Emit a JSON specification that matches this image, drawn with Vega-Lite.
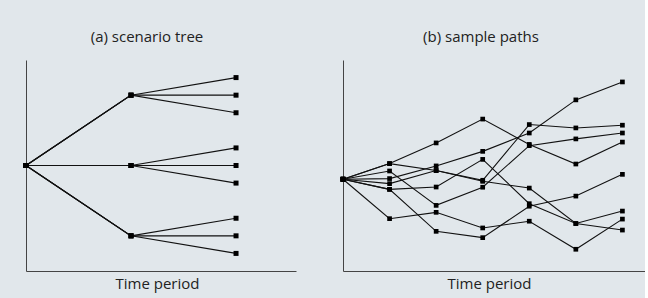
{
  "$schema": "https://vega.github.io/schema/vega-lite/v6.json",
  "background": "#e1e7eb",
  "padding": {"left": 23, "top": 30, "right": 0, "bottom": 20},
  "config": {
    "view": {"stroke": null},
    "font": "Open Sans",
    "axis": {"domainColor": "#444", "domainWidth": 1, "ticks": false, "labels": false, "grid": false, "titleFontSize": 15, "titleFontWeight": "normal", "titleColor": "#222", "titlePadding": 5},
    "title": {"fontSize": 15, "fontWeight": "normal", "color": "#222", "offset": 15}
  },
  "datasets": {
    "tree": [
      {"path": "L1", "t": 0, "v": 0}, {"path": "L1", "t": 1, "v": 4}, {"path": "L1", "t": 2, "v": 5},
      {"path": "L2", "t": 0, "v": 0}, {"path": "L2", "t": 1, "v": 4}, {"path": "L2", "t": 2, "v": 4},
      {"path": "L3", "t": 0, "v": 0}, {"path": "L3", "t": 1, "v": 4}, {"path": "L3", "t": 2, "v": 3},
      {"path": "L4", "t": 0, "v": 0}, {"path": "L4", "t": 1, "v": 0}, {"path": "L4", "t": 2, "v": 1},
      {"path": "L5", "t": 0, "v": 0}, {"path": "L5", "t": 1, "v": 0}, {"path": "L5", "t": 2, "v": 0},
      {"path": "L6", "t": 0, "v": 0}, {"path": "L6", "t": 1, "v": 0}, {"path": "L6", "t": 2, "v": -1},
      {"path": "L7", "t": 0, "v": 0}, {"path": "L7", "t": 1, "v": -4}, {"path": "L7", "t": 2, "v": -3},
      {"path": "L8", "t": 0, "v": 0}, {"path": "L8", "t": 1, "v": -4}, {"path": "L8", "t": 2, "v": -4},
      {"path": "L9", "t": 0, "v": 0}, {"path": "L9", "t": 1, "v": -4}, {"path": "L9", "t": 2, "v": -5}
    ],
    "paths": [
      {"path": "P1", "t": 0, "v": 43.5}, {"path": "P1", "t": 1, "v": 50.9}, {"path": "P1", "t": 2, "v": 60.7}, {"path": "P1", "t": 3, "v": 72.0}, {"path": "P1", "t": 4, "v": 60.0}, {"path": "P1", "t": 5, "v": 50.7}, {"path": "P1", "t": 6, "v": 61.1},
      {"path": "P2", "t": 0, "v": 43.5}, {"path": "P2", "t": 1, "v": 50.9}, {"path": "P2", "t": 2, "v": 47.6}, {"path": "P2", "t": 3, "v": 43.0}, {"path": "P2", "t": 4, "v": 69.4}, {"path": "P2", "t": 5, "v": 67.8}, {"path": "P2", "t": 6, "v": 69.1},
      {"path": "P3", "t": 0, "v": 43.5}, {"path": "P3", "t": 1, "v": 41.4}, {"path": "P3", "t": 2, "v": 47.6}, {"path": "P3", "t": 3, "v": 42.5}, {"path": "P3", "t": 4, "v": 39.3}, {"path": "P3", "t": 5, "v": 22.5}, {"path": "P3", "t": 6, "v": 19.4},
      {"path": "P4", "t": 0, "v": 43.5}, {"path": "P4", "t": 1, "v": 43.8}, {"path": "P4", "t": 2, "v": 49.8}, {"path": "P4", "t": 3, "v": 56.7}, {"path": "P4", "t": 4, "v": 65.4}, {"path": "P4", "t": 5, "v": 81.1}, {"path": "P4", "t": 6, "v": 89.6},
      {"path": "P5", "t": 0, "v": 43.5}, {"path": "P5", "t": 1, "v": 47.4}, {"path": "P5", "t": 2, "v": 31.1}, {"path": "P5", "t": 3, "v": 39.7}, {"path": "P5", "t": 4, "v": 59.4}, {"path": "P5", "t": 5, "v": 62.6}, {"path": "P5", "t": 6, "v": 65.4},
      {"path": "P6", "t": 0, "v": 43.5}, {"path": "P6", "t": 1, "v": 38.7}, {"path": "P6", "t": 2, "v": 39.8}, {"path": "P6", "t": 3, "v": 52.9}, {"path": "P6", "t": 4, "v": 31.9}, {"path": "P6", "t": 5, "v": 22.5}, {"path": "P6", "t": 6, "v": 28.4},
      {"path": "P7", "t": 0, "v": 43.5}, {"path": "P7", "t": 1, "v": 38.7}, {"path": "P7", "t": 2, "v": 18.8}, {"path": "P7", "t": 3, "v": 15.8}, {"path": "P7", "t": 4, "v": 30.7}, {"path": "P7", "t": 5, "v": 35.5}, {"path": "P7", "t": 6, "v": 45.8},
      {"path": "P8", "t": 0, "v": 43.5}, {"path": "P8", "t": 1, "v": 24.8}, {"path": "P8", "t": 2, "v": 27.8}, {"path": "P8", "t": 3, "v": 20.4}, {"path": "P8", "t": 4, "v": 23.6}, {"path": "P8", "t": 5, "v": 10.3}, {"path": "P8", "t": 6, "v": 24.6}
    ]
  },
  "spacing": 44,
  "hconcat": [
    {
      "width": 270,
      "height": 211,
      "title": {"text": "(a) scenario tree", "dx": -14},
      "data": {"name": "tree"},
      "encoding": {
        "x": {"field": "t", "type": "quantitative", "scale": {"domain": [0, 2.571], "nice": false, "zero": false}, "axis": {"title": "Time period", "titleX": 131}},
        "y": {"field": "v", "type": "quantitative", "scale": {"domain": [-6, 6], "nice": false, "zero": false}, "axis": {"title": null}}
      },
      "layer": [
        {"mark": {"type": "line", "color": "#111", "strokeWidth": 1.1}, "encoding": {"detail": {"field": "path"}, "order": {"field": "t"}}},
        {"mark": {"type": "point", "shape": "square", "filled": true, "color": "#000", "size": 25, "opacity": 1}}
      ]
    },
    {
      "width": 302,
      "height": 211,
      "title": {"text": "(b) sample paths", "dx": -13},
      "data": {"name": "paths"},
      "encoding": {
        "x": {"field": "t", "type": "quantitative", "scale": {"domain": [0, 6.485], "nice": false, "zero": false}, "axis": {"title": "Time period", "titleX": 146}},
        "y": {"field": "v", "type": "quantitative", "scale": {"domain": [0, 100], "nice": false, "zero": false}, "axis": {"title": null}}
      },
      "layer": [
        {"mark": {"type": "line", "color": "#111", "strokeWidth": 1.1}, "encoding": {"detail": {"field": "path"}, "order": {"field": "t"}}},
        {"mark": {"type": "point", "shape": "square", "filled": true, "color": "#000", "size": 22, "opacity": 1}}
      ]
    }
  ]
}
